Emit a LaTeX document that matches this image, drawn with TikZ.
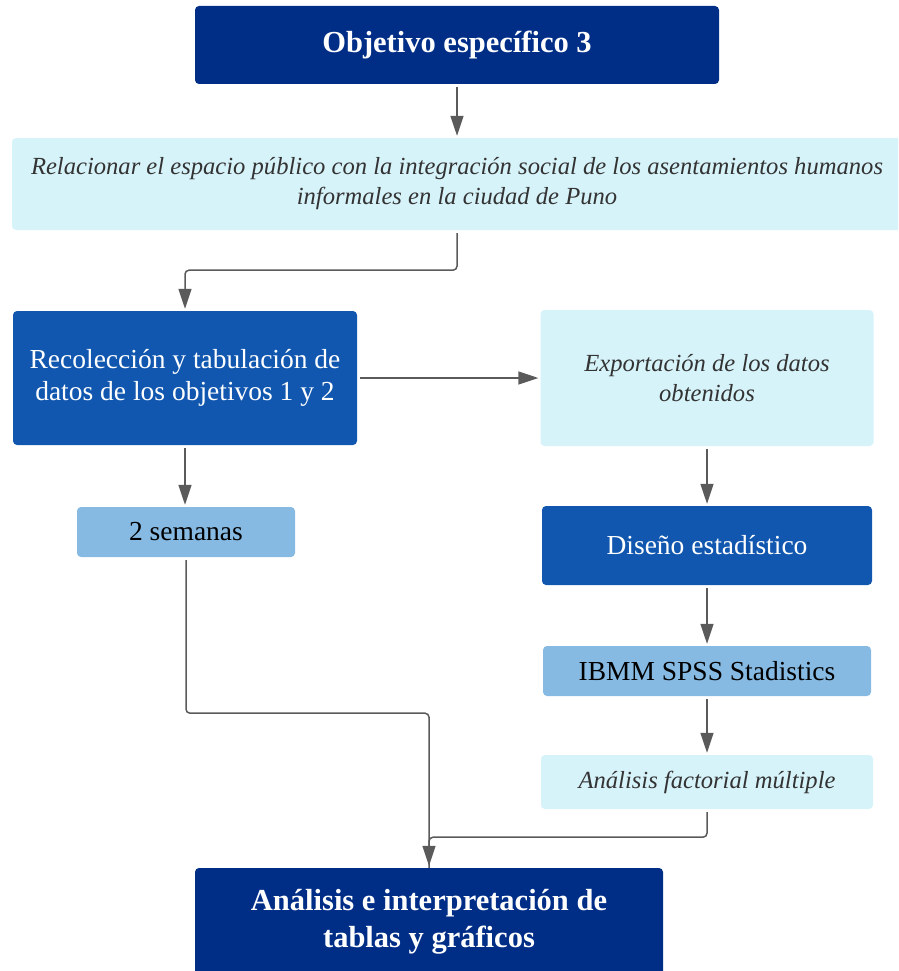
\documentclass[tikz,border=0pt]{standalone}
\usepackage{fontspec}
\setmainfont{Liberation Serif}
\usetikzlibrary{arrows.meta}
\definecolor{navy}{RGB}{0,46,135}
\definecolor{midblue}{RGB}{17,87,175}
\definecolor{lightblue}{RGB}{134,186,226}
\definecolor{paleblue}{RGB}{215,243,250}
\definecolor{linegray}{RGB}{90,90,90}
\tikzset{
  box/.style={rounded corners=4pt, inner sep=0pt, align=center},
  navybox/.style={box, fill=navy, text=white, font=\fontsize{30.5}{37}\selectfont\bfseries},
  midbox/.style={box, fill=midblue, text=white, font=\fontsize{27.5}{32}\selectfont},
  lightbox/.style={box, fill=lightblue, text=black, font=\fontsize{27.5}{32}\selectfont},
  palebox/.style={box, fill=paleblue, text=black!80, font=\fontsize{24.6}{30}\selectfont\itshape},
  conn/.style={draw=linegray, line width=1.5pt, rounded corners=4pt},
  arr/.style={conn, -{Triangle[length=20pt,width=13pt]}, shorten <=3pt, shorten >=2pt},
}
\begin{document}
\begin{tikzpicture}[x=1pt,y=-1pt]
\useasboundingbox (0,0) rectangle (898,971);
\clip (0,0) rectangle (898,971);
\node[navybox, minimum width=524pt, minimum height=78pt] (obj) at (457,45) {Objetivo específico 3};
\node[palebox, minimum width=890pt, minimum height=92pt] (rel) at (457,184)
  {Relacionar el espacio público con la integración social de los asentamientos humanos\\informales en la ciudad de Puno};
\node[midbox, minimum width=344pt, minimum height=134pt] (rec) at (185,378)
  {Recolección y tabulación de\\datos de los objetivos 1 y 2};
\node[palebox, minimum width=333pt, minimum height=136pt] (exp) at (707,378)
  {Exportación de los datos\\obtenidos};
\node[lightbox, minimum width=218pt, minimum height=50pt] (sem) at (186,532) {2 semanas};
\node[midbox, minimum width=330pt, minimum height=79pt] (dis) at (707,545.5) {Diseño estadístico};
\node[lightbox, minimum width=328pt, minimum height=50pt] (spss) at (707,671) {IBMM SPSS Stadistics};
\node[palebox, minimum width=332pt, minimum height=54pt] (af) at (707,782) {Análisis factorial múltiple};
\node[navybox, minimum width=468pt, minimum height=108pt] (fin) at (429,922)
  {Análisis e interpretación de\\tablas y gráficos};

\draw[arr] (obj.south) -- (rel.north);
\draw[arr] (rel.south) -- ++(0,40) -| (rec.north);
\draw[arr] (rec.east) -- (exp.west);
\draw[arr] (rec.south) -- (rec.south |- sem.north);
\draw[arr] (exp.south) -- (exp.south |- dis.north);
\draw[arr] (dis.south) -- (dis.south |- spss.north);
\draw[arr] (spss.south) -- (spss.south |- af.north);
\draw[conn, shorten <=3pt] (af.south) -- ++(0,28) -| (fin.north);
\draw[arr] (sem.south) -- ++(0,156) -| (fin.north);
\end{tikzpicture}
\end{document}
